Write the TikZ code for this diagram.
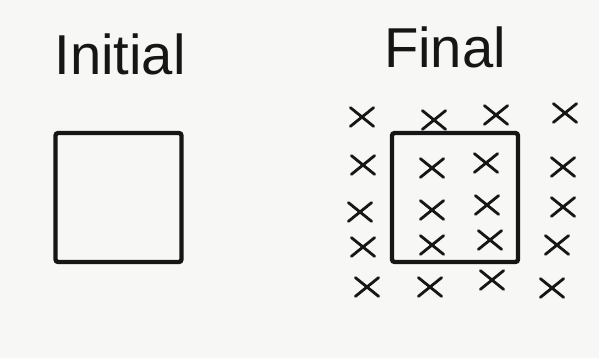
\documentclass[tikz,border=0pt]{standalone}
\usepackage{fontspec}
\setmainfont{Liberation Sans}
\usetikzlibrary{shapes.misc}
\definecolor{paper}{RGB}{247,247,245}
\definecolor{pen}{RGB}{22,22,22}
\tikzset{
  title/.style={font=\fontsize{32}{36}\selectfont,text=pen,anchor=base,inner sep=0pt},
  box/.style={draw=pen,line width=2.5pt,rounded corners=1.5pt,inner sep=0pt,
    minimum width=2.52cm,minimum height=2.58cm},
  cross/.style={cross out,draw=pen,line width=1.6pt,line cap=round,inner sep=0pt,
    minimum width=4.1mm,minimum height=3.2mm},
}

\begin{document}
\begin{tikzpicture}[x=0.02cm,y=-0.02cm]
\fill[paper] (0,0) rectangle (599,358);
% titles
\node[title] (tinit) at (120,75) {Initial};
\node[title] (tfin) at (445,68) {Final};
% the two boxes
\node[box] (binit) at (118.5,197.5) {};
\node[box] (bfin) at (455,197.5) {};
% crosses of the final state
\foreach \x/\y [count=\i] in {362/117,434/120,496/115,565/113,
    363/165,432/168,486/163,563/167,
    360/212,432/210,487/205,563/207,
    363/247,432/245,490/240,557/245,
    367/287,430/287,492/280,552/288}{
  \node[cross] (x\i) at (\x,\y) {};}
\end{tikzpicture}
\end{document}
